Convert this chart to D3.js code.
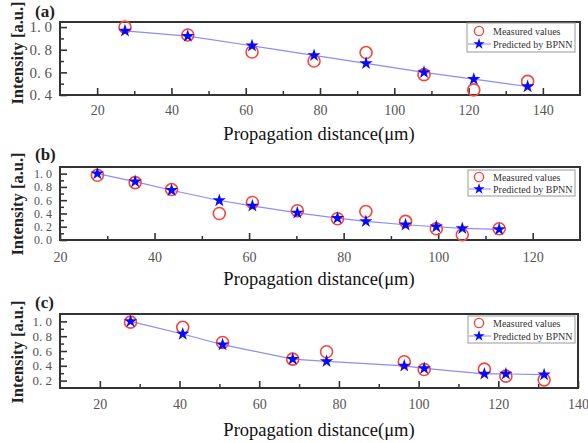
<!DOCTYPE html>
<html><head><meta charset="utf-8">
<script src="https://cdn.jsdelivr.net/npm/d3@7/dist/d3.min.js"></script>
<style>
body{margin:0;background:#fff;}
svg{display:block;}
text{font-family:"Liberation Serif","Times New Roman",serif;}
</style></head>
<body><svg id="c" width="588" height="443"></svg>
<script>
// ---- data ----
const xA = [27.5, 44.4, 61.7, 78.4, 92.4, 108, 121.4, 135.9];
const measA = [1.0, 0.93, 0.78, 0.70, 0.775, 0.58, 0.445, 0.52];
const predA = [0.967, 0.92, 0.835, 0.75, 0.68, 0.60, 0.54, 0.475];

const xB = [27.9, 35.9, 43.6, 53.7, 60.7, 70.2, 78.7, 84.7, 93.1, 99.6, 105.1, 112.9];
const measB = [0.975, 0.865, 0.76, 0.40, 0.565, 0.44, 0.32, 0.43, 0.28, 0.17, 0.08, 0.17];
const predB = [1.0, 0.88, 0.75, 0.595, 0.515, 0.41, 0.33, 0.28, 0.23, 0.20, 0.175, 0.16];

const xC = [27.7, 40.8, 50.8, 68.4, 76.9, 96.4, 101.4, 116.5, 121.9, 131.5];
const measC = [0.99, 0.92, 0.715, 0.49, 0.59, 0.455, 0.35, 0.355, 0.26, 0.21];
const predC = [1.0, 0.83, 0.685, 0.49, 0.46, 0.40, 0.365, 0.29, 0.29, 0.28];

const xTicksA = [20, 40, 60, 80, 100, 120, 140];
const yTicksA = [0.4, 0.6, 0.8, 1.0];
const xTicksB = [20, 40, 60, 80, 100, 120];
const yTicksB = [0.0, 0.2, 0.4, 0.6, 0.8, 1.0];
const xTicksC = [20, 40, 60, 80, 100, 120, 140];
const yTicksC = [0.2, 0.4, 0.6, 0.8, 1.0];

const panelLabels = ["(a)", "(b)", "(c)"];
const legendLabels = ["Measured values", "Predicted by BPNN"];
const xTitle = "Propagation distance(\u03bcm)";
const yTitle = "Intensity [a.u.]";

// ---- layout ----
const panels = [
  {label: panelLabels[0], x: xA, meas: measA, pred: predA, xt: xTicksA, yt: yTicksA,
   xd: [10, 150], yd: [0.4, 1.045], left: 60, right: 580, top: 22, bottom: 95,
   ytFont: 15, xtBase: 20, titleBase: 140, yTitleC: 53, labBase: 17,
   leg: {x0: 467, x1: 575, y0: 23, y1: 52, r1: 31, r2: 44}},
  {label: panelLabels[1], x: xB, meas: measB, pred: predB, xt: xTicksB, yt: yTicksB,
   xd: [20, 130], yd: [0, 1.1], left: 60, right: 580, top: 167, bottom: 240,
   ytFont: 12, xtBase: 22, titleBase: 285, yTitleC: 204, labBase: 160,
   leg: {x0: 468, x1: 575, y0: 170, y1: 196, r1: 177, r2: 189}},
  {label: panelLabels[2], x: xC, meas: measC, pred: predC, xt: xTicksC, yt: yTicksC,
   xd: [10, 140], yd: [0.1, 1.1], left: 60, right: 578, top: 314, bottom: 388,
   ytFont: 13, xtBase: 21, titleBase: 436, yTitleC: 352, labBase: 308,
   leg: {x0: 468, x1: 575, y0: 316, y1: 343, r1: 323, r2: 336}}
];

const svg = d3.select("#c");
const star = d3.symbol().type(d3.symbolStar);

panels.forEach(p => {
  const g = svg.append("g");
  const x = d3.scaleLinear().domain(p.xd).range([p.left, p.right]);
  const y = d3.scaleLinear().domain(p.yd).range([p.bottom, p.top]);

  // minor ticks
  const xMinor = d3.range(p.xd[0], p.xd[1] + 0.001, 10).filter(v => !p.xt.includes(v) && v > p.xd[0] && v < p.xd[1]);
  const xa = g.append("g").attr("transform", `translate(0,${p.bottom})`)
    .call(d3.axisBottom(x).tickValues(xMinor).tickSize(-4).tickFormat(""));
  xa.select(".domain").remove();
  xa.selectAll("line").attr("stroke", "#333").attr("stroke-width", 1.5);

  const xb = g.append("g").attr("transform", `translate(0,${p.bottom})`)
    .call(d3.axisBottom(x).tickValues(p.xt).tickSize(-7).tickPadding(0).tickFormat(d3.format("d")));
  xb.select(".domain").remove();
  xb.selectAll("line").attr("stroke", "#333").attr("stroke-width", 1.6);
  xb.selectAll("text").attr("y", p.xtBase).attr("dy", 0).attr("fill", "#555")
    .attr("font-size", 14).attr("font-family", "Liberation Serif");

  const yMinorVals = [];
  for (let i = 0; i < p.yt.length - 1; i++) yMinorVals.push((p.yt[i] + p.yt[i+1]) / 2);
  const ya = g.append("g").attr("transform", `translate(${p.left},0)`)
    .call(d3.axisLeft(y).tickValues(yMinorVals).tickSize(-4).tickFormat(""));
  ya.select(".domain").remove();
  ya.selectAll("line").attr("stroke", "#333").attr("stroke-width", 1.5);

  const yb = g.append("g").attr("transform", `translate(${p.left},0)`)
    .call(d3.axisLeft(y).tickValues(p.yt).tickSize(-7).tickPadding(9).tickFormat(d => d3.format(".1f")(d).replace(".", ". ")));
  yb.select(".domain").remove();
  yb.selectAll("line").attr("stroke", "#333").attr("stroke-width", 1.6);
  yb.selectAll("text").attr("fill", "#555").attr("font-size", p.ytFont)
    .attr("font-family", "Liberation Serif").attr("x", -8);

  // frame
  g.append("rect").attr("x", p.left).attr("y", p.top)
    .attr("width", p.right - p.left).attr("height", p.bottom - p.top)
    .attr("fill", "none").attr("stroke", "#333").attr("stroke-width", 2);

  // line through predictions
  const pts = p.x.map((v, i) => [v, p.pred[i]]);
  g.append("path").datum(pts)
    .attr("d", d3.line().x(d => x(d[0])).y(d => y(d[1])))
    .attr("fill", "none").attr("stroke", "#8c8cf5").attr("stroke-width", 1.2);

  // measured circles
  g.selectAll("circle.m").data(p.x.map((v, i) => [v, p.meas[i]])).join("circle")
    .attr("cx", d => x(d[0])).attr("cy", d => y(d[1])).attr("r", 6)
    .attr("fill", "none").attr("stroke", "#f0483c").attr("stroke-width", 1.6);

  // predicted stars
  g.selectAll("path.s").data(pts).join("path")
    .attr("transform", d => `translate(${x(d[0])},${y(d[1])})`)
    .attr("d", star.size(55)()).attr("fill", "#0a0af5");

  // legend
  const L = p.leg;
  g.append("rect").attr("x", L.x0).attr("y", L.y0).attr("width", L.x1 - L.x0).attr("height", L.y1 - L.y0)
    .attr("fill", "#fff").attr("stroke", "#999").attr("stroke-width", 1);
  g.append("circle").attr("cx", 479).attr("cy", L.r1).attr("r", 4.6)
    .attr("fill", "none").attr("stroke", "#f0483c").attr("stroke-width", 1.4);
  g.append("line").attr("x1", L.x0 + 1).attr("x2", 491).attr("y1", L.r2).attr("y2", L.r2)
    .attr("stroke", "#8c8cf5").attr("stroke-width", 1);
  g.append("path").attr("transform", `translate(479,${L.r2})`).attr("d", star.size(40)()).attr("fill", "#0a0af5");
  g.append("text").attr("x", 493).attr("y", L.r1 + 3.5).text(legendLabels[0])
    .attr("font-size", 10).attr("fill", "#333");
  g.append("text").attr("x", 493).attr("y", L.r2 + 3.5).text(legendLabels[1])
    .attr("font-size", 10).attr("fill", "#333");

  // titles
  g.append("text").attr("x", 319).attr("y", p.titleBase).attr("text-anchor", "middle")
    .attr("font-size", 18.5).attr("fill", "#111").text(xTitle);
  g.append("text").attr("transform", `translate(23,${p.yTitleC}) rotate(-90)`)
    .attr("text-anchor", "middle").attr("font-size", 16.5).attr("font-weight", "bold")
    .attr("fill", "#222").text(yTitle);
  g.append("text").attr("x", 35).attr("y", p.labBase).attr("font-size", 17).attr("font-weight", "bold")
    .attr("fill", "#222").text(p.label);
});
</script></body></html>
